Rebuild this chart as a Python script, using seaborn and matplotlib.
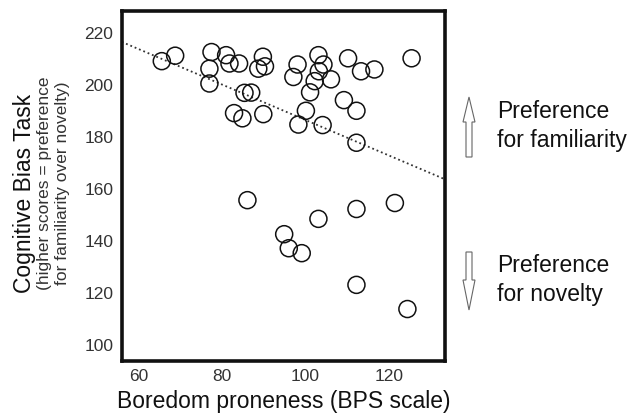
import matplotlib
matplotlib.use("Agg")
import matplotlib.pyplot as plt
from matplotlib.patches import FancyArrow
import seaborn as sns
import pandas as pd

boredom = [65.6, 68.8, 77.5, 81.0, 81.8, 84.1, 77.0, 77.0, 85.4, 87.0, 82.9, 84.9,
           89.8, 88.7, 90.3, 98.1, 97.1, 103.1, 104.3, 103.2, 102.2, 101.1, 106.1,
           110.2, 113.3, 116.5, 125.4, 109.2, 112.2, 100.1, 98.3, 104.1, 89.9, 112.2,
           86.1, 112.2, 121.4, 103.1, 94.9, 96.0, 99.1, 112.2, 124.4]
bias = [209.2, 211.3, 212.7, 211.5, 208.3, 208.3, 206.3, 200.6, 197.0, 197.1, 189.2, 187.2,
        210.9, 206.3, 207.2, 207.9, 203.1, 211.5, 207.9, 205.3, 201.5, 197.2, 202.2,
        210.3, 205.3, 206.0, 210.3, 194.2, 190.1, 190.1, 184.8, 184.6, 188.8, 177.8,
        155.7, 152.3, 154.6, 148.5, 142.6, 137.2, 135.3, 123.1, 113.8]
x_ticks = [60, 80, 100, 120]
y_ticks = [100, 120, 140, 160, 180, 200, 220]

df = pd.DataFrame({"boredom": boredom, "bias": bias})

sns.set_theme(style="white")
plt.rcParams["font.family"] = ["Liberation Sans", "DejaVu Sans"]

fig = plt.figure(figsize=(6.3, 4.17), dpi=100)
ax = fig.add_axes([121.7 / 630, 1 - 361 / 417, (445 - 121.7) / 630, 350 / 417])
ax.set_xlim(56.0, 133.4)
ax.set_ylim(93.8, 228.5)

sns.regplot(data=df, x="boredom", y="bias", scatter=False, ci=None, truncate=False,
            ax=ax, line_kws=dict(color="#333333", lw=1.3, linestyle=(0, (1, 1.6))))
sns.scatterplot(data=df, x="boredom", y="bias", ax=ax, s=150, facecolor="none",
                edgecolor="#111111", linewidth=1.1, zorder=3)

ax.set_xlim(56.0, 133.4)
ax.set_ylim(93.8, 228.5)
ax.set_xticks(x_ticks)
ax.set_yticks(y_ticks)
ax.tick_params(axis="both", length=0, labelsize=12.5, labelcolor="#333333", pad=6)
for sp in ax.spines.values():
    sp.set_visible(True)
    sp.set_color("#111111")
    sp.set_linewidth(2.6)
ax.set_xlabel("Boredom proneness (BPS scale)", fontsize=16.5, color="#111111", labelpad=4)
ax.set_ylabel("")

fig.text(25 / 630, 1 - 193 / 417, "Cognitive Bias Task", rotation=90, fontsize=16.5,
         color="#111111", ha="center", va="center")
fig.text(45 / 630, 1 - 183 / 417, "(higher scores = preference", rotation=90, fontsize=12.5,
         color="#333333", ha="center", va="center")
fig.text(63 / 630, 1 - 183 / 417, "for familiarity over novelty)", rotation=90, fontsize=12.5,
         color="#333333", ha="center", va="center")

fig.text(497 / 630, 1 - 112 / 417, "Preference", fontsize=16.5, color="#111111",
         ha="left", va="center")
fig.text(497 / 630, 1 - 140 / 417, "for familiarity", fontsize=16.5, color="#111111",
         ha="left", va="center")
fig.text(497 / 630, 1 - 266 / 417, "Preference", fontsize=16.5, color="#111111",
         ha="left", va="center")
fig.text(497 / 630, 1 - 294 / 417, "for novelty", fontsize=16.5, color="#111111",
         ha="left", va="center")

H = 417.0
up = FancyArrow(469 / 630, 1 - 157 / H, 0, 60 / H, width=6 / 630, head_width=12 / 630,
                head_length=25 / H, length_includes_head=True, transform=fig.transFigure,
                facecolor="white", edgecolor="#666666", linewidth=0.8)
down = FancyArrow(469 / 630, 1 - 252 / H, 0, -58 / H, width=6 / 630, head_width=12 / 630,
                  head_length=30 / H, length_includes_head=True, transform=fig.transFigure,
                  facecolor="white", edgecolor="#666666", linewidth=0.8)
fig.add_artist(up)
fig.add_artist(down)

fig.savefig("out.png", dpi=100)
